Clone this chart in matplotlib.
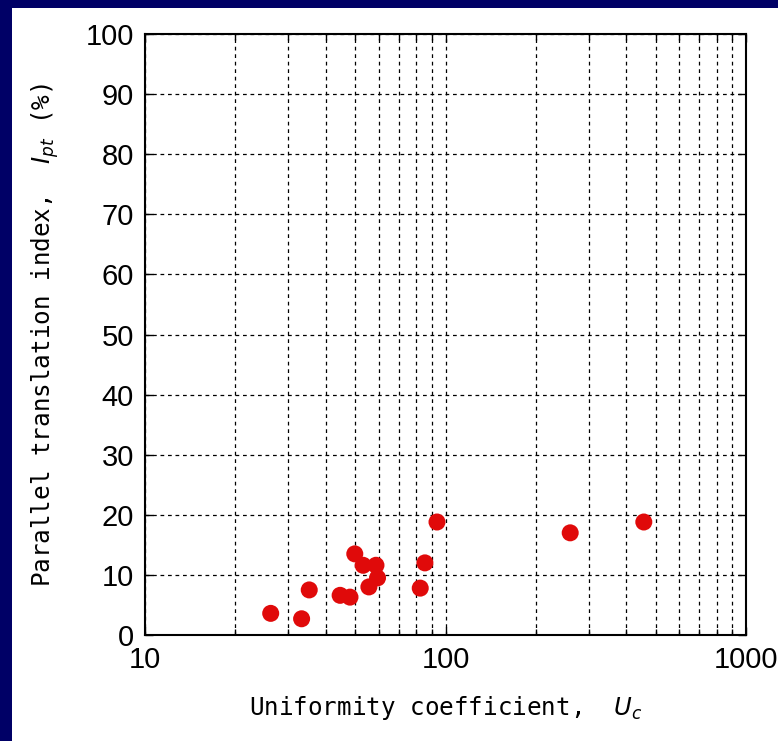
import numpy as np
import matplotlib
matplotlib.use("Agg")
import matplotlib.pyplot as plt
from matplotlib.patches import Rectangle
from matplotlib.ticker import LogLocator, FixedLocator, NullFormatter

# data
uc = [26.2, 33.2, 35.2, 44.6, 48.1, 49.9, 53.2, 55.6, 58.7, 59.4, 82.4, 85.4, 93.7, 260, 457]
ipt = [3.6, 2.7, 7.5, 6.6, 6.3, 13.5, 11.6, 8.0, 11.6, 9.5, 7.8, 12.0, 18.8, 17.0, 18.8]

x_ticks = [10, 100, 1000]
y_ticks = list(range(0, 101, 10))

navy = "#000066"
tick_font = ["Liberation Sans Narrow", "Liberation Sans", "DejaVu Sans"]
label_font = ["DejaVu Sans Mono"]

fig = plt.figure(figsize=(7.78, 7.41), dpi=100, facecolor=navy)
W, H = 778, 741
fig.patches.append(Rectangle((12 / W, 0), 1, 1 - 8 / H, transform=fig.transFigure,
                             facecolor="white", edgecolor="none", zorder=-5))

ax = fig.add_axes([145 / W, 1 - 635 / H, (746 - 145) / W, (635 - 34) / H])
ax.set_facecolor("white")

ax.scatter(uc, ipt, s=150, color="#E00A0A", edgecolors="none", zorder=3, clip_on=False)

ax.set_xscale("log")
ax.set_xlim(10, 1000)
ax.set_ylim(0, 100)
ax.xaxis.set_major_locator(FixedLocator(x_ticks))
ax.xaxis.set_minor_locator(LogLocator(base=10, subs=np.arange(2, 10)))
ax.xaxis.set_minor_formatter(NullFormatter())
ax.set_xticks(x_ticks)
ax.set_xticklabels([str(t) for t in x_ticks])
ax.set_yticks(y_ticks)
ax.set_yticklabels([str(t) for t in y_ticks])

ax.grid(True, which="major", color="black", linestyle=(0, (3, 3)), linewidth=0.9)
ax.grid(True, which="minor", axis="x", color="black", linestyle=(0, (3, 3)), linewidth=0.9)
ax.set_axisbelow(True)

ax.tick_params(which="both", direction="in", top=True, right=True, length=6, width=1,
               labelsize=21, pad=8)
ax.tick_params(which="minor", length=4)
for lab in ax.get_xticklabels() + ax.get_yticklabels():
    lab.set_family(tick_font)

for sp in ax.spines.values():
    sp.set_linewidth(1.5)
    sp.set_color("black")

ax.set_xlabel(r"Uniformity coefficient,  $\mathit{U}_{\mathit{c}}$", fontsize=17.5,
              family=label_font, labelpad=14)
ax.set_ylabel(r"Parallel translation index,  $\mathit{I}_{\mathit{pt}}$ (%)", fontsize=17.5,
              family=label_font, labelpad=18)

fig.savefig("out.png", dpi=100, facecolor=navy)
